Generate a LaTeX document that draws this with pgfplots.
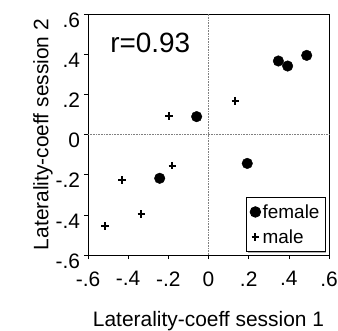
\documentclass[border=0pt]{standalone}
\usepackage{pgfplots}
\pgfplotsset{compat=1.18}
\usetikzlibrary{shadows}
\usepackage{fontspec}
\setmainfont{Liberation Sans}
\begin{document}
\begin{tikzpicture}
\useasboundingbox (-88bp,-76bp) rectangle (250bp,255bp);
\begin{axis}[
  at={(0,0)}, anchor=south west,
  scale only axis, width=241bp, height=241bp,
  xmin=-0.6, xmax=0.6, ymin=-0.6, ymax=0.6,
  xtick={-0.6,-0.4,-0.2,0,0.2,0.4,0.6},
  ytick={-0.6,-0.4,-0.2,0,0.2,0.4,0.6},
  xticklabels={-.6,-.4,-.2,0,.2,.4,.6},
  yticklabels={-.6,-.4,-.2,0,.2,.4,.6},
  tick align=outside, major tick length=4bp,
  tick style={black, line width=0.6pt},
  axis line style={line width=0.8pt},
  xtick pos=bottom, ytick pos=left,
  ticklabel style={font=\fontsize{21}{22}\selectfont},
  xticklabel style={yshift=-9bp},
  yticklabel style={xshift=-0.5bp, yshift=-6bp},
  xlabel={Laterality-coeff session 1},
  ylabel={Laterality-coeff session 2},
  label style={font=\fontsize{21}{24}\selectfont},
  xlabel style={yshift=-18bp},
  ylabel style={yshift=-4bp},
  legend style={at={(0.985,0.012)}, anchor=south east, draw=black, line width=0.8pt,
    font=\fontsize{19}{21}\selectfont, inner xsep=3.5pt, inner ysep=5pt, row sep=6pt,
    cells={anchor=west}, fill=white,
    drop shadow={shadow xshift=1.5pt, shadow yshift=-1pt, fill=gray!60, opacity=1}},
  legend cell align=left,
  clip=false,
]
\draw[gray, densely dotted, line width=0.6pt] (axis cs:0,-0.6) -- (axis cs:0,0.6);
\draw[gray, densely dotted, line width=0.6pt] (axis cs:-0.6,0) -- (axis cs:0.6,0);
\addplot[only marks, mark=*, mark size=5.3bp, black] coordinates {
  (0.348,0.366) (0.394,0.341) (0.489,0.394) (-0.059,0.089) (0.193,-0.144) (-0.243,-0.218)
};
\addlegendentry{female}
\addplot[only marks, mark=+, mark size=3.8bp, black, mark options={line width=2bp}] coordinates {
  (-0.197,0.092) (0.134,0.168) (-0.180,-0.155) (-0.431,-0.228) (-0.334,-0.396) (-0.514,-0.457)
};
\addlegendentry{male}
\node[font=\fontsize{28}{30}\selectfont, anchor=center] at (axis cs:-0.29,0.455) {r=0.93};
\end{axis}
\end{tikzpicture}
\end{document}
